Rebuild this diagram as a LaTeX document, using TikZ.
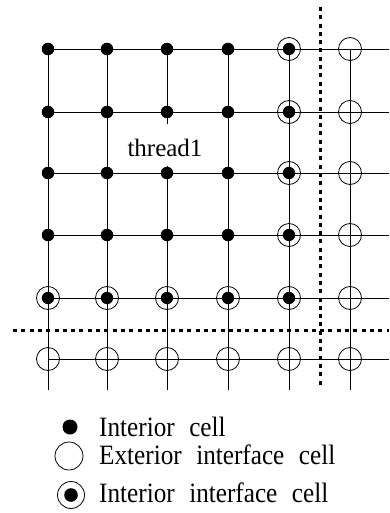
\documentclass[tikz,border=0pt]{standalone}
\usepackage{fontspec}
\setmainfont{Liberation Serif}
\newfontfamily\legfont[FakeStretch=0.9,WordSpace=2.3]{Liberation Serif}
\begin{document}
\begin{tikzpicture}[x=1pt,y=-1pt,
  gridline/.style={line width=0.8pt},
  dotline/.style={line width=3pt, dash pattern=on 4pt off 4.3pt},
  incell/.style={circle, fill=black, inner sep=0pt, minimum size=12.5pt},
  ext/.style={circle, draw, line width=0.8pt, inner sep=0pt, minimum size=23pt},
  intf/.style={circle, draw, line width=0.8pt, inner sep=0pt, minimum size=23pt,
    path picture={\fill (path picture bounding box.center) circle (#1);}},
  intf/.default=6.2pt,
  legtext/.style={anchor=base west, inner sep=0pt, font=\legfont\fontsize{28}{30}\selectfont}]
\useasboundingbox (0,0) rectangle (389,513);
% coordinates
\foreach \c/\x in {1/48,2/107,3/167,4/228,5/289,6/350}{
  \foreach \r/\y in {1/49,2/112,3/173,4/235,5/298,6/359}{
    \coordinate (p\c\r) at (\x,\y);
  }
  \coordinate (b\c) at (\x,390);
}
\foreach \r/\y in {1/49,2/112,3/173,4/235,5/298,6/359}{
  \coordinate (e\r) at (389,\y);
}
% grid lines
\foreach \r in {1,...,6}{ \draw[gridline] (p1\r) -- (e\r); }
\foreach \c in {1,...,6}{ \draw[gridline] (p\c1) -- (b\c); }
% partition lines
\coordinate (vt) at (320,7);
\coordinate (vb) at (320,388);
\coordinate (hl) at (13,330);
\coordinate (hr) at (389,330);
\draw[dotline] (vt) -- (vb);
\draw[dotline] (hl) -- (hr);
% label
\node[fill=white, anchor=base, inner xsep=1pt, inner ysep=0pt, text height=33pt, text depth=9pt,
  font=\fontsize{25}{28}\selectfont] (thr) at (165,157) {thread1};
% cells
\foreach \c in {1,...,4}{
  \foreach \r in {1,...,4}{ \node[incell] (n\c\r) at (p\c\r) {}; }
  \node[intf] (n\c5) at (p\c5) {};
}
\foreach \r in {1,...,5}{ \node[intf] (n5\r) at (p5\r) {}; }
\foreach \c in {1,...,5}{ \node[ext] (n\c6) at (p\c6) {}; }
\foreach \r in {1,...,6}{ \node[ext] (n6\r) at (p6\r) {}; }
% legend
\node[incell, minimum size=15pt] (l1) at (70,427) {};
\node[ext, minimum size=28pt] (l2) at (69,456) {};
\node[intf=6.8pt, minimum size=27pt] (l3) at (71,495) {};
\node[legtext] (t1) at (99,436) {Interior cell};
\node[legtext] (t2) at (99,464) {Exterior interface cell};
\node[legtext] (t3) at (99,502) {Interior interface cell};
\end{tikzpicture}
\end{document}
